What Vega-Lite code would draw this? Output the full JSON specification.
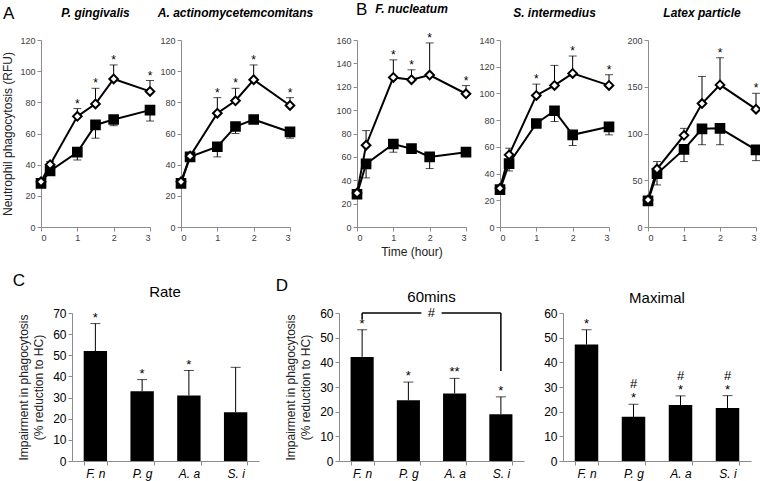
{
  "$schema": "https://vega.github.io/schema/vega-lite/v6.json",
  "padding": {"left": 1, "top": 0, "right": 3, "bottom": 2},
  "background": "white",
  "datasets": {
    "top": [
      {"panel": "Pg", "series": "CP", "time": 0, "value": 28, "err": null, "sig": ""},
      {"panel": "Pg", "series": "CP", "time": 0.25, "value": 36, "err": null, "sig": ""},
      {"panel": "Pg", "series": "CP", "time": 1, "value": 48, "err": 43, "sig": ""},
      {"panel": "Pg", "series": "CP", "time": 1.5, "value": 65.5, "err": 57, "sig": ""},
      {"panel": "Pg", "series": "CP", "time": 2, "value": 69, "err": 65, "sig": ""},
      {"panel": "Pg", "series": "CP", "time": 3, "value": 75, "err": 68, "sig": ""},
      {"panel": "Aa", "series": "CP", "time": 0, "value": 28, "err": null, "sig": ""},
      {"panel": "Aa", "series": "CP", "time": 0.25, "value": 45, "err": null, "sig": ""},
      {"panel": "Aa", "series": "CP", "time": 1, "value": 51.5, "err": 45, "sig": ""},
      {"panel": "Aa", "series": "CP", "time": 1.5, "value": 64.5, "err": 60, "sig": ""},
      {"panel": "Aa", "series": "CP", "time": 2, "value": 69, "err": 67, "sig": ""},
      {"panel": "Aa", "series": "CP", "time": 3, "value": 61, "err": 57, "sig": ""},
      {"panel": "Fn", "series": "CP", "time": 0, "value": 28, "err": null, "sig": ""},
      {"panel": "Fn", "series": "CP", "time": 0.25, "value": 54, "err": 42, "sig": ""},
      {"panel": "Fn", "series": "CP", "time": 1, "value": 71, "err": 64, "sig": ""},
      {"panel": "Fn", "series": "CP", "time": 1.5, "value": 67, "err": 63, "sig": ""},
      {"panel": "Fn", "series": "CP", "time": 2, "value": 60, "err": 50, "sig": ""},
      {"panel": "Fn", "series": "CP", "time": 3, "value": 64, "err": null, "sig": ""},
      {"panel": "Si", "series": "CP", "time": 0, "value": 28, "err": null, "sig": ""},
      {"panel": "Si", "series": "CP", "time": 0.25, "value": 47.5, "err": 42, "sig": ""},
      {"panel": "Si", "series": "CP", "time": 1, "value": 77.5, "err": null, "sig": ""},
      {"panel": "Si", "series": "CP", "time": 1.5, "value": 87, "err": 79, "sig": ""},
      {"panel": "Si", "series": "CP", "time": 2, "value": 69, "err": 61, "sig": ""},
      {"panel": "Si", "series": "CP", "time": 3, "value": 75, "err": 69, "sig": ""},
      {"panel": "Lx", "series": "CP", "time": 0, "value": 28, "err": null, "sig": ""},
      {"panel": "Lx", "series": "CP", "time": 0.25, "value": 57, "err": 45, "sig": ""},
      {"panel": "Lx", "series": "CP", "time": 1, "value": 83, "err": 70, "sig": ""},
      {"panel": "Lx", "series": "CP", "time": 1.5, "value": 105, "err": 88, "sig": ""},
      {"panel": "Lx", "series": "CP", "time": 2, "value": 105.5, "err": 88, "sig": ""},
      {"panel": "Lx", "series": "CP", "time": 3, "value": 82.5, "err": 71, "sig": ""},
      {"panel": "Pg", "series": "HC", "time": 0, "value": 29, "err": null, "sig": ""},
      {"panel": "Pg", "series": "HC", "time": 0.25, "value": 40, "err": 42, "sig": ""},
      {"panel": "Pg", "series": "HC", "time": 1, "value": 71, "err": 76, "sig": "*"},
      {"panel": "Pg", "series": "HC", "time": 1.5, "value": 79, "err": 89, "sig": "*"},
      {"panel": "Pg", "series": "HC", "time": 2, "value": 95, "err": 104, "sig": "*"},
      {"panel": "Pg", "series": "HC", "time": 3, "value": 87, "err": 94, "sig": "*"},
      {"panel": "Aa", "series": "HC", "time": 0, "value": 29, "err": null, "sig": ""},
      {"panel": "Aa", "series": "HC", "time": 0.25, "value": 45.5, "err": null, "sig": ""},
      {"panel": "Aa", "series": "HC", "time": 1, "value": 73, "err": 83, "sig": "*"},
      {"panel": "Aa", "series": "HC", "time": 1.5, "value": 81, "err": 89, "sig": "*"},
      {"panel": "Aa", "series": "HC", "time": 2, "value": 94.5, "err": 104, "sig": "*"},
      {"panel": "Aa", "series": "HC", "time": 3, "value": 78, "err": 83, "sig": "*"},
      {"panel": "Fn", "series": "HC", "time": 0, "value": 29, "err": null, "sig": ""},
      {"panel": "Fn", "series": "HC", "time": 0.25, "value": 70, "err": 82.5, "sig": ""},
      {"panel": "Fn", "series": "HC", "time": 1, "value": 128, "err": 143, "sig": "*"},
      {"panel": "Fn", "series": "HC", "time": 1.5, "value": 126, "err": 134.5, "sig": "*"},
      {"panel": "Fn", "series": "HC", "time": 2, "value": 130, "err": 157.5, "sig": "*"},
      {"panel": "Fn", "series": "HC", "time": 3, "value": 114, "err": 121, "sig": "*"},
      {"panel": "Si", "series": "HC", "time": 0, "value": 29, "err": null, "sig": ""},
      {"panel": "Si", "series": "HC", "time": 0.25, "value": 54, "err": 59, "sig": ""},
      {"panel": "Si", "series": "HC", "time": 1, "value": 98.5, "err": 107, "sig": "*"},
      {"panel": "Si", "series": "HC", "time": 1.5, "value": 106, "err": 121, "sig": ""},
      {"panel": "Si", "series": "HC", "time": 2, "value": 115, "err": 128, "sig": "*"},
      {"panel": "Si", "series": "HC", "time": 3, "value": 106, "err": 114, "sig": "*"},
      {"panel": "Lx", "series": "HC", "time": 0, "value": 29, "err": null, "sig": ""},
      {"panel": "Lx", "series": "HC", "time": 0.25, "value": 62, "err": 70, "sig": ""},
      {"panel": "Lx", "series": "HC", "time": 1, "value": 98, "err": 105.5, "sig": ""},
      {"panel": "Lx", "series": "HC", "time": 1.5, "value": 132, "err": 161, "sig": ""},
      {"panel": "Lx", "series": "HC", "time": 2, "value": 152, "err": 181, "sig": "*"},
      {"panel": "Lx", "series": "HC", "time": 3, "value": 126, "err": 143, "sig": "*"}
    ],
    "bottom": [
      {"panel": "Rate", "species": "F. n", "value": 52, "err": 65, "sig": "*", "sig2": ""},
      {"panel": "Rate", "species": "P. g", "value": 33, "err": 38.5, "sig": "*", "sig2": ""},
      {"panel": "Rate", "species": "A. a", "value": 31, "err": 42.8, "sig": "*", "sig2": ""},
      {"panel": "Rate", "species": "S. i", "value": 23, "err": 44.3, "sig": "", "sig2": ""},
      {"panel": "60mins", "species": "F. n", "value": 42.2, "err": 53.2, "sig": "*", "sig2": ""},
      {"panel": "60mins", "species": "P. g", "value": 24.6, "err": 32, "sig": "*", "sig2": ""},
      {"panel": "60mins", "species": "A. a", "value": 27.4, "err": 33.5, "sig": "**", "sig2": ""},
      {"panel": "60mins", "species": "S. i", "value": 19, "err": 26, "sig": "*", "sig2": ""},
      {"panel": "Maximal", "species": "F. n", "value": 47.2, "err": 53.2, "sig": "*", "sig2": ""},
      {"panel": "Maximal", "species": "P. g", "value": 17.9, "err": 23, "sig": "*", "sig2": "#"},
      {"panel": "Maximal", "species": "A. a", "value": 22.7, "err": 26.4, "sig": "*", "sig2": "#"},
      {"panel": "Maximal", "species": "S. i", "value": 21.5, "err": 26.5, "sig": "*", "sig2": "#"}
    ],
    "bracketH": [
      {"from": "F. n", "to": "P. g", "y": 60},
      {"from": "A. a", "to": "S. i", "y": 60}
    ],
    "bracketV": [
      {"at": "F. n", "y": 57.5, "y2": 60},
      {"at": "S. i", "y": 36.5, "y2": 60}
    ],
    "bracketLabel": [
      {"from": "P. g", "to": "A. a", "y": 60, "label": "#"}
    ]
  },
  "vconcat": [
    {
      "hconcat": [
        {
          "title": {"text": "A", "anchor": "start", "fontSize": 17, "fontWeight": "normal", "baseline": "top", "offset": -16, "dx": 1},
          "spacing": -2,
          "hconcat": [
            {
              "width": 109, "height": 187,
              "title": {"text": "P. gingivalis", "fontStyle": "italic", "fontWeight": "bold", "fontSize": 12, "frame": "group", "offset": 16},
              "data": {"name": "top"},
              "transform": [{"filter": "datum.panel == 'Pg'"}],
              "encoding": {"x": {"field": "time", "type": "quantitative", "scale": {"domain": [0, 3], "nice": false}, "axis": {"values": [0, 1, 2, 3], "format": "d", "title": null}}},
              "layer": [
                {"mark": {"type": "line", "color": "black", "strokeWidth": 2}, "encoding": {"y": {"field": "value", "type": "quantitative", "scale": {"domain": [0, 120]}, "axis": {"values": [0, 20, 40, 60, 80, 100, 120], "tickCount": 20, "format": "d", "title": "Neutrophil phagocytosis (RFU)", "titlePadding": 5}}, "detail": {"field": "series"}}},
                {"transform": [{"filter": "datum.err != null"}], "mark": {"type": "rule", "color": "black", "strokeWidth": 1}, "encoding": {"y": {"field": "err", "type": "quantitative"}, "y2": {"field": "value"}}},
                {"transform": [{"filter": "datum.err != null"}], "mark": {"type": "tick", "orient": "horizontal", "color": "black", "size": 8, "thickness": 1}, "encoding": {"y": {"field": "err", "type": "quantitative"}}},
                {"mark": {"type": "point", "filled": true, "stroke": "black", "strokeWidth": 2, "opacity": 1, "size": 75}, "encoding": {"y": {"field": "value", "type": "quantitative"}, "shape": {"field": "series", "scale": {"domain": ["CP", "HC"], "range": ["square", "diamond"]}, "legend": null}, "fill": {"field": "series", "scale": {"domain": ["CP", "HC"], "range": ["black", "white"]}, "legend": null}}},
                {"transform": [{"filter": "datum.sig != ''"}], "mark": {"type": "text", "fontSize": 12, "dy": -5, "baseline": "middle", "color": "black"}, "encoding": {"y": {"field": "err", "type": "quantitative"}, "text": {"field": "sig"}}}
              ]
            },
            {
              "width": 109, "height": 187,
              "title": {"text": "A. actinomycetemcomitans", "fontStyle": "italic", "fontWeight": "bold", "fontSize": 12, "frame": "group", "offset": 16},
              "data": {"name": "top"},
              "transform": [{"filter": "datum.panel == 'Aa'"}],
              "encoding": {"x": {"field": "time", "type": "quantitative", "scale": {"domain": [0, 3], "nice": false}, "axis": {"values": [0, 1, 2, 3], "format": "d", "title": null}}},
              "layer": [
                {"mark": {"type": "line", "color": "black", "strokeWidth": 2}, "encoding": {"y": {"field": "value", "type": "quantitative", "scale": {"domain": [0, 120]}, "axis": {"values": [0, 20, 40, 60, 80, 100, 120], "tickCount": 20, "format": "d", "title": null}}, "detail": {"field": "series"}}},
                {"transform": [{"filter": "datum.err != null"}], "mark": {"type": "rule", "color": "black", "strokeWidth": 1}, "encoding": {"y": {"field": "err", "type": "quantitative"}, "y2": {"field": "value"}}},
                {"transform": [{"filter": "datum.err != null"}], "mark": {"type": "tick", "orient": "horizontal", "color": "black", "size": 8, "thickness": 1}, "encoding": {"y": {"field": "err", "type": "quantitative"}}},
                {"mark": {"type": "point", "filled": true, "stroke": "black", "strokeWidth": 2, "opacity": 1, "size": 75}, "encoding": {"y": {"field": "value", "type": "quantitative"}, "shape": {"field": "series", "scale": {"domain": ["CP", "HC"], "range": ["square", "diamond"]}, "legend": null}, "fill": {"field": "series", "scale": {"domain": ["CP", "HC"], "range": ["black", "white"]}, "legend": null}}},
                {"transform": [{"filter": "datum.sig != ''"}], "mark": {"type": "text", "fontSize": 12, "dy": -5, "baseline": "middle", "color": "black"}, "encoding": {"y": {"field": "err", "type": "quantitative"}, "text": {"field": "sig"}}}
              ]
            }
          ]
        },
        {
          "title": {"text": "B", "anchor": "start", "fontSize": 17, "fontWeight": "normal", "baseline": "top", "offset": -16, "dx": 20},
          "spacing": 3,
          "hconcat": [
            {
              "width": 109, "height": 187,
              "title": {"text": "F. nucleatum", "fontStyle": "italic", "fontWeight": "bold", "fontSize": 12, "frame": "group", "offset": 16},
              "data": {"name": "top"},
              "transform": [{"filter": "datum.panel == 'Fn'"}],
              "encoding": {"x": {"field": "time", "type": "quantitative", "scale": {"domain": [0, 3], "nice": false}, "axis": {"values": [0, 1, 2, 3], "format": "d", "title": "Time (hour)", "titleFontSize": 12, "titlePadding": 4}}},
              "layer": [
                {"mark": {"type": "line", "color": "black", "strokeWidth": 2}, "encoding": {"y": {"field": "value", "type": "quantitative", "scale": {"domain": [0, 160]}, "axis": {"values": [0, 20, 40, 60, 80, 100, 120, 140, 160], "tickCount": 20, "format": "d", "title": null}}, "detail": {"field": "series"}}},
                {"transform": [{"filter": "datum.err != null"}], "mark": {"type": "rule", "color": "black", "strokeWidth": 1}, "encoding": {"y": {"field": "err", "type": "quantitative"}, "y2": {"field": "value"}}},
                {"transform": [{"filter": "datum.err != null"}], "mark": {"type": "tick", "orient": "horizontal", "color": "black", "size": 8, "thickness": 1}, "encoding": {"y": {"field": "err", "type": "quantitative"}}},
                {"mark": {"type": "point", "filled": true, "stroke": "black", "strokeWidth": 2, "opacity": 1, "size": 75}, "encoding": {"y": {"field": "value", "type": "quantitative"}, "shape": {"field": "series", "scale": {"domain": ["CP", "HC"], "range": ["square", "diamond"]}, "legend": null}, "fill": {"field": "series", "scale": {"domain": ["CP", "HC"], "range": ["black", "white"]}, "legend": null}}},
                {"transform": [{"filter": "datum.sig != ''"}], "mark": {"type": "text", "fontSize": 12, "dy": -5, "baseline": "middle", "color": "black"}, "encoding": {"y": {"field": "err", "type": "quantitative"}, "text": {"field": "sig"}}}
              ]
            },
            {
              "spacing": 8,
              "hconcat": [
                {
                  "width": 109, "height": 187,
                  "title": {"text": "S. intermedius", "fontStyle": "italic", "fontWeight": "bold", "fontSize": 12, "frame": "group", "offset": 16},
                  "data": {"name": "top"},
                  "transform": [{"filter": "datum.panel == 'Si'"}],
                  "encoding": {"x": {"field": "time", "type": "quantitative", "scale": {"domain": [0, 3], "nice": false}, "axis": {"values": [0, 1, 2, 3], "format": "d", "title": null}}},
                  "layer": [
                    {"mark": {"type": "line", "color": "black", "strokeWidth": 2}, "encoding": {"y": {"field": "value", "type": "quantitative", "scale": {"domain": [0, 140]}, "axis": {"values": [0, 20, 40, 60, 80, 100, 120, 140], "tickCount": 20, "format": "d", "title": null}}, "detail": {"field": "series"}}},
                    {"transform": [{"filter": "datum.err != null"}], "mark": {"type": "rule", "color": "black", "strokeWidth": 1}, "encoding": {"y": {"field": "err", "type": "quantitative"}, "y2": {"field": "value"}}},
                    {"transform": [{"filter": "datum.err != null"}], "mark": {"type": "tick", "orient": "horizontal", "color": "black", "size": 8, "thickness": 1}, "encoding": {"y": {"field": "err", "type": "quantitative"}}},
                    {"mark": {"type": "point", "filled": true, "stroke": "black", "strokeWidth": 2, "opacity": 1, "size": 75}, "encoding": {"y": {"field": "value", "type": "quantitative"}, "shape": {"field": "series", "scale": {"domain": ["CP", "HC"], "range": ["square", "diamond"]}, "legend": null}, "fill": {"field": "series", "scale": {"domain": ["CP", "HC"], "range": ["black", "white"]}, "legend": null}}},
                    {"transform": [{"filter": "datum.sig != ''"}], "mark": {"type": "text", "fontSize": 12, "dy": -5, "baseline": "middle", "color": "black"}, "encoding": {"y": {"field": "err", "type": "quantitative"}, "text": {"field": "sig"}}}
                  ]
                },
                {
                  "width": 108, "height": 187,
                  "title": {"text": "Latex particle", "fontStyle": "italic", "fontWeight": "bold", "fontSize": 12, "frame": "group", "offset": 16},
                  "data": {"name": "top"},
                  "transform": [{"filter": "datum.panel == 'Lx'"}],
                  "encoding": {"x": {"field": "time", "type": "quantitative", "scale": {"domain": [0, 3], "nice": false}, "axis": {"values": [0, 1, 2, 3], "format": "d", "title": null}}},
                  "layer": [
                    {"mark": {"type": "line", "color": "black", "strokeWidth": 2}, "encoding": {"y": {"field": "value", "type": "quantitative", "scale": {"domain": [0, 200]}, "axis": {"values": [0, 50, 100, 150, 200], "tickCount": 20, "format": "d", "title": null}}, "detail": {"field": "series"}}},
                    {"transform": [{"filter": "datum.err != null"}], "mark": {"type": "rule", "color": "black", "strokeWidth": 1}, "encoding": {"y": {"field": "err", "type": "quantitative"}, "y2": {"field": "value"}}},
                    {"transform": [{"filter": "datum.err != null"}], "mark": {"type": "tick", "orient": "horizontal", "color": "black", "size": 8, "thickness": 1}, "encoding": {"y": {"field": "err", "type": "quantitative"}}},
                    {"mark": {"type": "point", "filled": true, "stroke": "black", "strokeWidth": 2, "opacity": 1, "size": 75}, "encoding": {"y": {"field": "value", "type": "quantitative"}, "shape": {"field": "series", "scale": {"domain": ["CP", "HC"], "range": ["square", "diamond"]}, "legend": null}, "fill": {"field": "series", "scale": {"domain": ["CP", "HC"], "range": ["black", "white"]}, "legend": null}}},
                    {"transform": [{"filter": "datum.sig != ''"}], "mark": {"type": "text", "fontSize": 12, "dy": -5, "baseline": "middle", "color": "black"}, "encoding": {"y": {"field": "err", "type": "quantitative"}, "text": {"field": "sig"}}}
                  ]
                }
              ]
            }
          ]
        }
      ],
      "spacing": 21
    },
    {
      "hconcat": [
        {
          "title": {"text": "C", "anchor": "start", "fontSize": 17, "fontWeight": "normal", "baseline": "top", "offset": -5, "dx": -5},
          "hconcat": [
            {
              "width": 218, "height": 148,
              "title": {"text": "Rate", "fontSize": 15, "fontWeight": "normal", "frame": "group", "offset": 7, "dx": 15},
              "data": {"name": "bottom"},
              "transform": [{"filter": "datum.panel == 'Rate'"}],
              "encoding": {"x": {"field": "species", "type": "nominal", "sort": ["F. n", "P. g", "A. a", "S. i"], "scale": {"range": [31, 218], "paddingInner": 0.5, "paddingOuter": 0.25}, "axis": {"title": null, "labelAngle": 0, "labelFontSize": 12, "labelFontStyle": "italic", "tickBand": "extent", "labelPadding": 3, "labelColor": "#000"}}},
              "layer": [
                {"mark": {"type": "bar", "color": "black"}, "encoding": {"y": {"field": "value", "type": "quantitative", "scale": {"domain": [0, 70]}, "axis": {"offset": -31, "values": [0, 10, 20, 30, 40, 50, 60, 70], "tickCount": 20, "format": "d", "labelFontSize": 12, "labelColor": "#000", "title": ["Impairment in phagocytosis", "(% reduction to HC)"], "titleFontSize": 12, "titleLineHeight": 15, "titlePadding": 7, "titleLimit": 300}}}},
                {"mark": {"type": "rule", "color": "black", "strokeWidth": 1}, "encoding": {"y": {"field": "err", "type": "quantitative"}, "y2": {"field": "value"}}},
                {"mark": {"type": "tick", "orient": "horizontal", "color": "black", "size": 10, "thickness": 1}, "encoding": {"y": {"field": "err", "type": "quantitative"}}},
                {"transform": [{"filter": "datum.sig != ''"}], "mark": {"type": "text", "fontSize": 13, "dy": -6, "baseline": "middle", "color": "black"}, "encoding": {"y": {"field": "err", "type": "quantitative"}, "text": {"field": "sig"}}}
              ]
            }
          ]
        },
        {
          "title": {"text": "D", "anchor": "start", "fontSize": 17, "fontWeight": "normal", "baseline": "top", "offset": -5, "dx": -9},
          "spacing": 19,
          "hconcat": [
            {
              "width": 185, "height": 148,
              "title": {"text": "60mins", "fontSize": 15, "fontWeight": "normal", "frame": "group", "offset": 2},
              "encoding": {"x": {"field": "species", "type": "nominal", "sort": ["F. n", "P. g", "A. a", "S. i"], "scale": {"domain": ["F. n", "P. g", "A. a", "S. i"], "paddingInner": 0.5, "paddingOuter": 0.25}, "axis": {"title": null, "labelAngle": 0, "labelFontSize": 12, "labelFontStyle": "italic", "tickBand": "extent", "labelPadding": 3, "labelColor": "#000"}}},
              "layer": [
                {"data": {"name": "bottom"}, "transform": [{"filter": "datum.panel == '60mins'"}], "mark": {"type": "bar", "color": "black"}, "encoding": {"y": {"field": "value", "type": "quantitative", "scale": {"domain": [0, 60]}, "axis": {"values": [0, 10, 20, 30, 40, 50, 60], "tickCount": 20, "format": "d", "labelFontSize": 12, "labelColor": "#000", "title": ["Impairment in phagocytosis", "(% reduction to HC)"], "titleFontSize": 12, "titleLineHeight": 15, "titlePadding": 7, "titleLimit": 300}}}},
                {"data": {"name": "bottom"}, "transform": [{"filter": "datum.panel == '60mins'"}], "mark": {"type": "rule", "color": "black", "strokeWidth": 1}, "encoding": {"y": {"field": "err", "type": "quantitative"}, "y2": {"field": "value"}}},
                {"data": {"name": "bottom"}, "transform": [{"filter": "datum.panel == '60mins'"}], "mark": {"type": "tick", "orient": "horizontal", "color": "black", "size": 10, "thickness": 1}, "encoding": {"y": {"field": "err", "type": "quantitative"}}},
                {"data": {"name": "bottom"}, "transform": [{"filter": "datum.panel == '60mins'"}], "mark": {"type": "text", "fontSize": 13, "dy": -6, "baseline": "middle", "color": "black"}, "encoding": {"y": {"field": "err", "type": "quantitative"}, "text": {"field": "sig"}}},
                {"data": {"name": "bracketH"}, "transform": [{"filter": "datum.from == 'F. n'"}], "mark": {"type": "rule", "color": "black", "strokeWidth": 1.5, "x2Offset": 13}, "encoding": {"x": {"field": "from", "type": "nominal"}, "x2": {"field": "to"}, "y": {"field": "y", "type": "quantitative"}}},
                {"data": {"name": "bracketH"}, "transform": [{"filter": "datum.from == 'A. a'"}], "mark": {"type": "rule", "color": "black", "strokeWidth": 1.5, "xOffset": -13}, "encoding": {"x": {"field": "from", "type": "nominal"}, "x2": {"field": "to"}, "y": {"field": "y", "type": "quantitative"}}},
                {"data": {"name": "bracketV"}, "mark": {"type": "rule", "color": "black", "strokeWidth": 1.5}, "encoding": {"x": {"field": "at", "type": "nominal"}, "y": {"field": "y", "type": "quantitative"}, "y2": {"field": "y2"}}},
                {"data": {"name": "bracketLabel"}, "mark": {"type": "text", "fontSize": 13, "baseline": "middle", "color": "black", "xOffset": 23}, "encoding": {"x": {"field": "from", "type": "nominal"}, "y": {"field": "y", "type": "quantitative"}, "text": {"field": "label"}}}
              ]
            },
            {
              "width": 188, "height": 148,
              "title": {"text": "Maximal", "fontSize": 15, "fontWeight": "normal", "frame": "group", "offset": 1},
              "data": {"name": "bottom"},
              "transform": [{"filter": "datum.panel == 'Maximal'"}],
              "encoding": {"x": {"field": "species", "type": "nominal", "sort": ["F. n", "P. g", "A. a", "S. i"], "scale": {"paddingInner": 0.5, "paddingOuter": 0.25}, "axis": {"title": null, "labelAngle": 0, "labelFontSize": 12, "labelFontStyle": "italic", "tickBand": "extent", "labelPadding": 3, "labelColor": "#000"}}},
              "layer": [
                {"mark": {"type": "bar", "color": "black"}, "encoding": {"y": {"field": "value", "type": "quantitative", "scale": {"domain": [0, 60]}, "axis": {"values": [0, 10, 20, 30, 40, 50, 60], "tickCount": 20, "format": "d", "labelFontSize": 12, "labelColor": "#000", "title": null}}}},
                {"mark": {"type": "rule", "color": "black", "strokeWidth": 1}, "encoding": {"y": {"field": "err", "type": "quantitative"}, "y2": {"field": "value"}}},
                {"mark": {"type": "tick", "orient": "horizontal", "color": "black", "size": 10, "thickness": 1}, "encoding": {"y": {"field": "err", "type": "quantitative"}}},
                {"transform": [{"filter": "datum.sig != ''"}], "mark": {"type": "text", "fontSize": 13, "dy": -6, "baseline": "middle", "color": "black"}, "encoding": {"y": {"field": "err", "type": "quantitative"}, "text": {"field": "sig"}}},
                {"transform": [{"filter": "datum.sig2 != ''"}], "mark": {"type": "text", "fontSize": 13, "dy": -20, "baseline": "middle", "color": "black"}, "encoding": {"y": {"field": "err", "type": "quantitative"}, "text": {"field": "sig2"}}}
              ]
            }
          ]
        }
      ],
      "spacing": 16
    }
  ],
  "spacing": 15,
  "config": {
    "font": "Liberation Sans",
    "view": {"stroke": null},
    "axis": {"grid": false, "labelOverlap": false, "domainColor": "#8c8c8c", "tickColor": "#8c8c8c", "labelColor": "#404040", "titleColor": "#222222", "labelFontSize": 9, "tickSize": 4, "labelPadding": 2, "titleFontWeight": "normal", "titleFontSize": 12, "labelFont": "Liberation Sans", "titleFont": "Liberation Sans"},
    "title": {"font": "Liberation Sans", "color": "#000000"}
  }
}
